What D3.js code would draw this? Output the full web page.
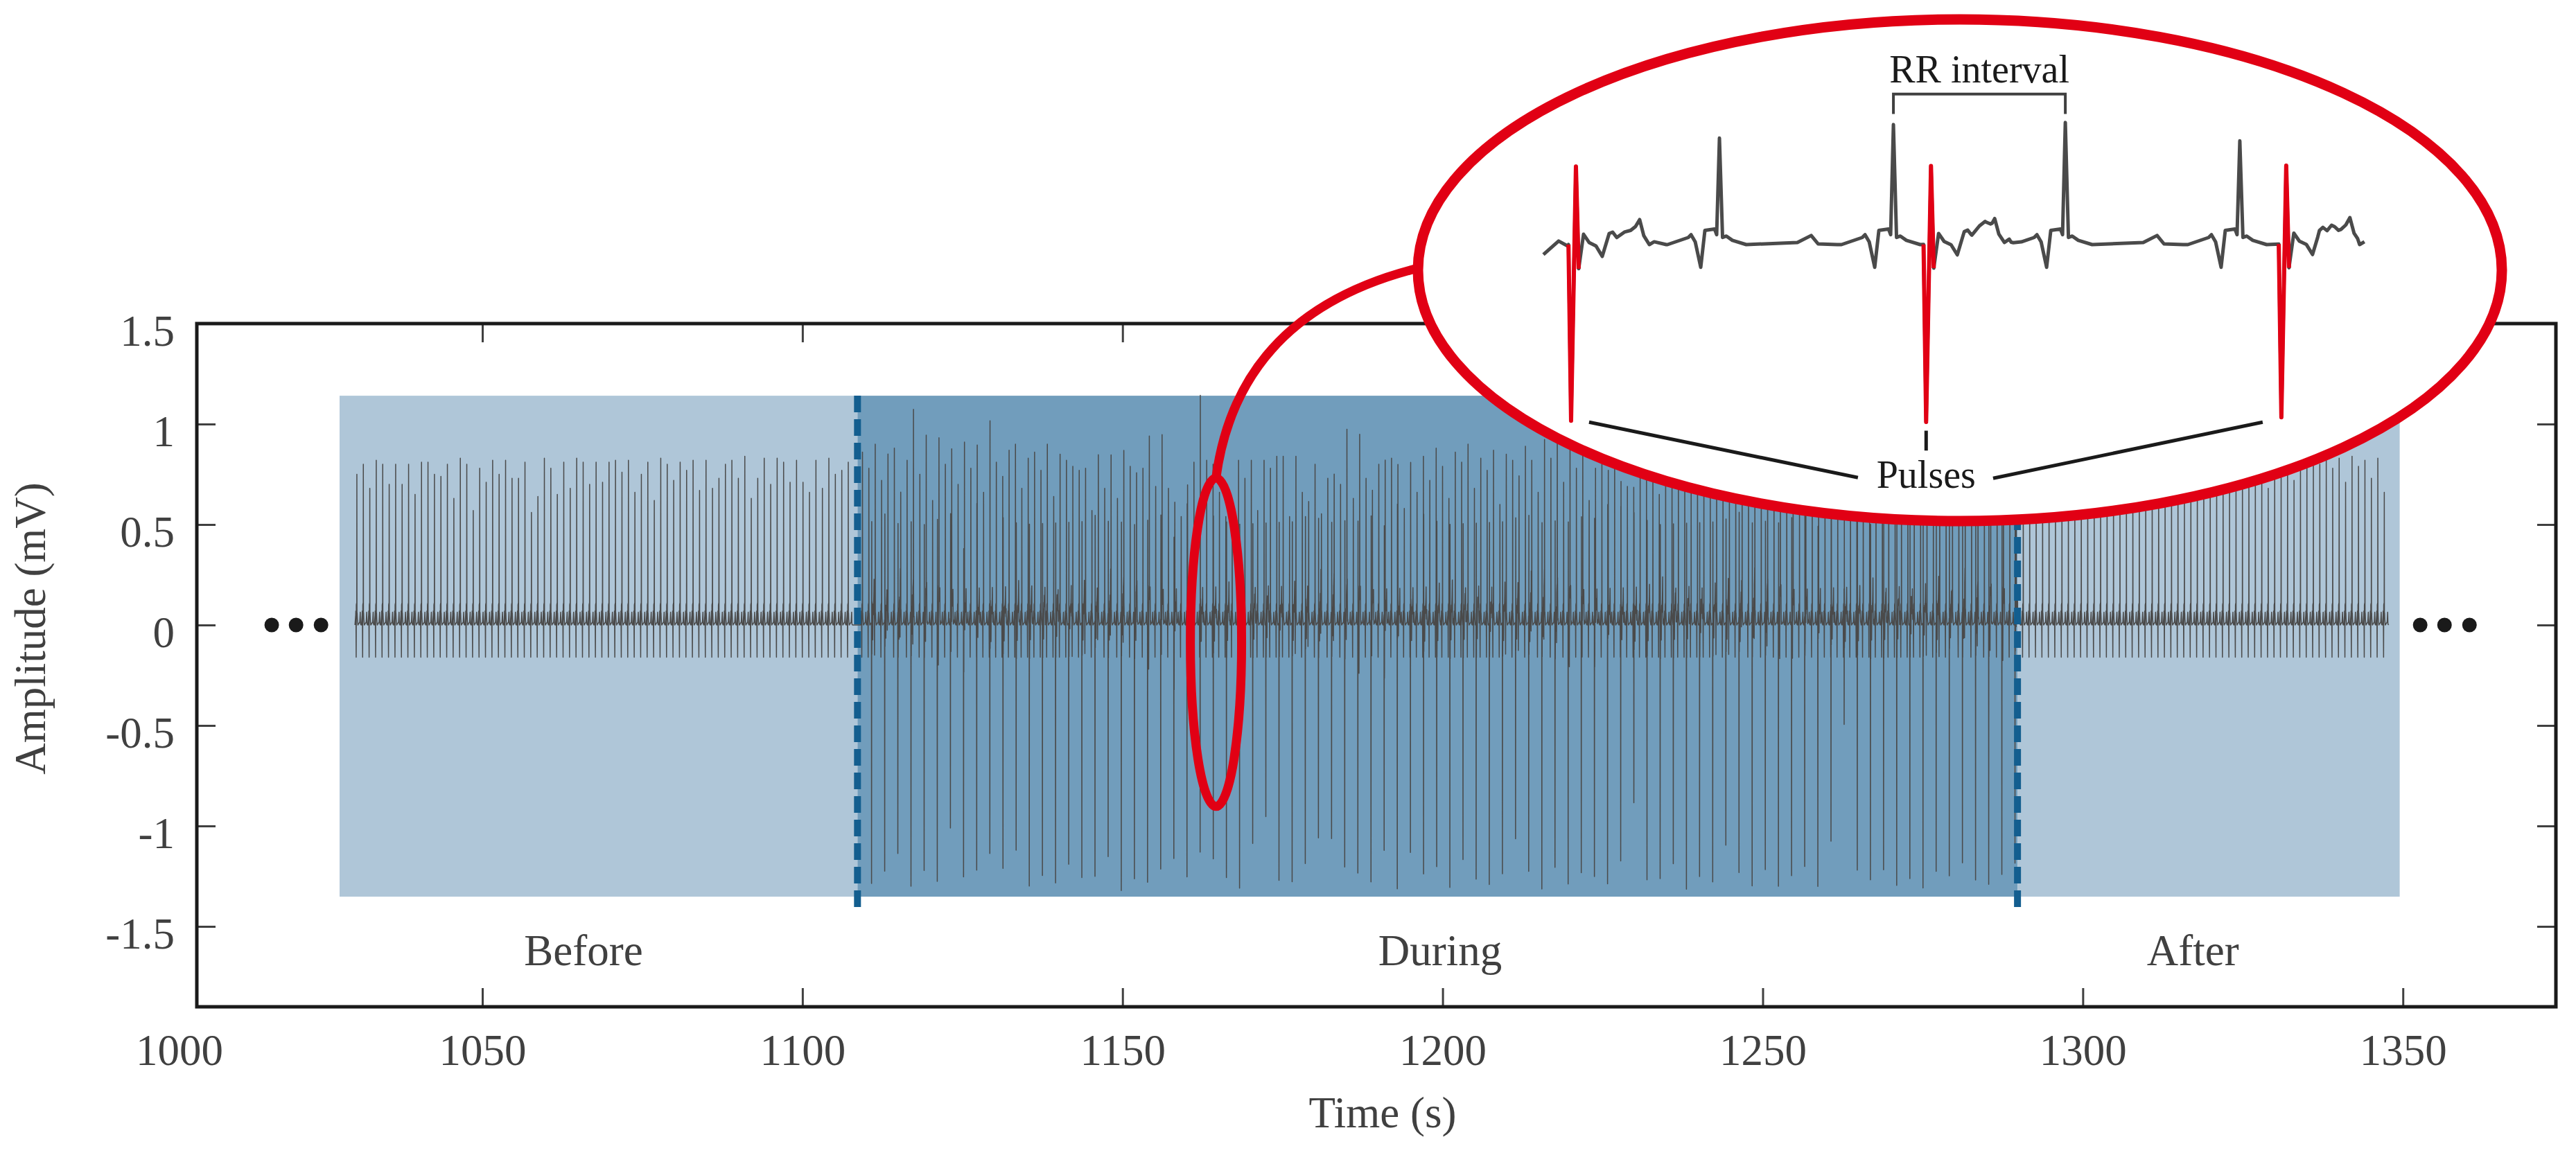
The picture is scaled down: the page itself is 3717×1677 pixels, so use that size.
<!DOCTYPE html>
<html><head><meta charset="utf-8">
<script src="https://cdn.jsdelivr.net/npm/d3@7"></script>
<style>html,body{margin:0;padding:0;background:#fff;}svg{display:block;}</style>
</head><body>
<svg id="c" width="3717" height="1677"></svg>
<script>
// ---------------- DATA ----------------
const xTicks = [1050, 1100, 1150, 1200, 1250, 1300, 1350];
const xFirstLabel = "1000";            // label drawn at the left edge of the axis
const yTicks = [-1.5, -1, -0.5, 0, 0.5, 1, 1.5];
const xDomain = [1005.4, 1373.9];
const yDomain = [-1.9, 1.5];

const segmentNames = ["Before", "During", "After"];
const segmentBounds = [1027.7, 1108.6, 1289.8, 1349.5];
const segmentLabelTimes = [1065.8, 1199.6, 1317.2];
const bandRange = [-1.352, 1.141];
const dashRange = [-1.43, 1.141];

const dotsLeft = [1017.1, 1020.9, 1024.8];
const dotsRight = [1352.7, 1356.5, 1360.4];

// beat timing (s)
const beforeStart = 1030.4, beforePeriod = 1.01;
const duringStart = 1109.38, duringPeriod = 0.9957;
const afterStart = 1290.7, afterPeriod = 1.007;
const pulseStart = 1110.797, pulsePeriod = 2.053;

// R-peak amplitudes (mV), read beat by beat
const beforeAmps = [0.75,0.80,0.68,0.82,0.80,0.70,0.80,0.70,0.80,0.65,
 0.81,0.81,0.75,0.74,0.80,0.63,0.83,0.80,0.57,0.78,
 0.71,0.82,0.75,0.82,0.73,0.73,0.81,0.56,0.64,0.83,
 0.78,0.65,0.81,0.68,0.83,0.81,0.70,0.81,0.71,0.81,
 0.82,0.76,0.82,0.66,0.75,0.81,0.62,0.83,0.80,0.72,
 0.81,0.77,0.82,0.67,0.82,0.68,0.73,0.80,0.82,0.73,
 0.84,0.63,0.73,0.83,0.70,0.83,0.81,0.71,0.82,0.71,
 0.66,0.82,0.68,0.83,0.75,0.77,0.81];
const duringAmps = [0.86,0.78,0.90,0.72,0.84,0.88,0.66,0.82,0.91,0.75,
 0.85,0.62,0.88,0.80,0.86,0.70,0.92,0.78,0.84,0.66,
 0.89,0.81,0.74,0.87,0.90,0.68,0.83,0.86,0.77,0.90,
 0.64,0.85,0.82,0.79,
 0.77,0.78,0.57,0.84,0.68,0.84,0.63,0.71,0.79,0.66,
 0.78,0.88,0.69,0.89,0.68,0.64,0.54,0.66,0.81,0.73,
 0.82,0.80,0.66,0.54,0.55,0.82,0.73,0.82,0.57,0.82,
 0.78,0.84,0.84,0.54,0.84,0.66,0.61,0.80,0.54,0.73,
 0.64,0.70,0.87,0.63,0.88,0.73,0.59,0.80,0.87,0.83,
 0.78,0.58,0.82,0.66,
 0.84,0.72,0.88,0.79,0.63,0.86,0.81,0.90,0.68,0.83,
 0.77,0.87,0.60,0.85,0.82,0.74,0.89,0.80,0.66,0.86,
 0.83,0.91,0.71,0.84,0.78,0.88,0.62,0.85,0.80,0.76,
 0.89,0.83,0.69,0.87,0.81,0.74,0.90,0.65,0.84,0.82,
 0.78,0.88,0.72,0.86,0.80,0.63,0.89,0.83,0.76,0.85,
 0.81,0.90,0.67,0.84,0.79,0.87,0.73,0.88,0.82,0.61,
 0.86,0.80,0.77,0.89,0.84,0.70,0.87,0.83,0.75,0.90,
 0.64,0.85,0.81,0.88,0.78,0.86,0.72,0.84,0.89,0.80,
 0.68,0.87,0.83,0.76,0.85,0.90,0.79,0.66,0.86,0.82,
 0.88,0.74,0.84,0.80];
const afterAmps = [0.80,0.82,0.78,0.83,0.79,0.81,0.77,0.82,0.80,0.83,
 0.79,0.62,0.81,0.78,0.83,0.80,0.70,0.82,0.79,0.81,
 0.83,0.78,0.80,0.75,0.82,0.66,0.80,0.83,0.79,0.81,
 0.78,0.82,0.80,0.74,0.83,0.79,0.81,0.78,0.68,0.82,
 0.80,0.83,0.72,0.81,0.79,0.84,0.80,0.82,0.78,0.83,
 0.71,0.84,0.79,0.82,0.73,0.83,0.66];
// stimulation pulse negative peaks (mV)
const pulseDepths = [-1.30,-1.26,-1.18,-1.31,-1.24,-1.29,-1.05,-1.28,-1.32,-1.22,
 -1.27,-1.14,-1.30,-1.25,-1.29,-1.20,
 -1.27,-1.28,-1.21,-1.33,-1.28,-1.29,-1.25,-1.21,-1.27,-1.24,
 -1.22,-1.28,-1.31,-1.09,-0.96,-1.28,-1.29,-1.21,-1.12,-1.07,
 -1.22,-1.24,-1.31,-1.19,-1.22,-1.24,
 -1.29,-1.23,-1.31,-1.17,-1.27,-1.30,-1.25,-1.08,-1.28,-1.32,
 -1.22,-1.29,-1.26,-1.31,-1.15,-1.28,-1.24,-1.30,-1.27,-1.19,
 -1.32,-1.26,-1.29,-1.11,-1.28,-1.31,-1.23,-1.30,-1.27,-1.25,
 -1.22,-1.18,-1.31,-1.26,-1.28,-1.22,-1.30,-1.27,-1.32,-1.24,
 -1.29,-1.21,-1.28,-1.31,-1.26,-1.23];
const pulseUp = 0.5;

// waveform shapes: [time from event (s), mV]; strings = per-event peaks
const beatShape = [[-0.3,0],[-0.18,0.05],[-0.164,0.07],[-0.14,0.02],[-0.108,-0.16],[-0.084,0.10],
 [-0.028,0.11],[-0.016,0.07],[0,"R"],[0.018,0.05],[0.04,0.06],[0.075,0.03],[0.155,0],
 [0.45,0.015],[0.53,0.064],[0.57,0.005],[0.68,0.02]];
const pulseShape = [[-0.015,0],[0,"DOWN"],[0.028,"UP"],[0.044,-0.17],[0.072,0.073],[0.104,0.015],
 [0.144,-0.01],[0.18,-0.083],[0.22,0.078],[0.24,0.088],[0.264,0.05],[0.308,0.088],[0.344,0.10],
 [0.372,0.127],[0.396,0.176],[0.42,0.063],[0.452,0],[0.48,0.02],[0.55,0]];

// inset (magnified segment)
const insetSpan = [0, 4.8];
const insetBeatTimes = [1.017, 2.022, 3.015, 4.023];
const insetBeatAmps = [0.75, 0.845, 0.86, 0.73];
const insetPulseTimes = [0.160, 2.211, 4.263];
const insetPulseDepths = [-1.24, -1.25, -1.22];
const insetPulseUp = 0.55;
const insetStartLevels = [[0,-0.07],[0.088,0.025],[0.14,-0.01]];

// ---------------- HELPERS ----------------
function resolve(shape, map){ return shape.map(([t,v]) => [t, (typeof v === "string") ? map[v] : v]); }
function buildSignal(events){
  const knots = [];
  events.forEach(e => e.shape.forEach(([dt]) => knots.push(e.t + dt)));
  knots.sort((a,b)=>a-b);
  const pts = [];
  let last = -Infinity;
  knots.forEach(t => {
    if (t - last < 1e-6) return; last = t;
    let v = 0;
    for (const e of events) {
      const s = e.shape, r = t - e.t;
      if (r < s[0][0] || r > s[s.length-1][0]) continue;
      for (let k=1;k<s.length;k++){
        if (r <= s[k][0]) { const [t0,v0]=s[k-1],[t1,v1]=s[k]; v += v0+(v1-v0)*(r-t0)/(t1-t0); break; }
      }
    }
    pts.push({t, v});
  });
  return pts;
}

// ---------------- CHART ----------------
const svg = d3.select("#c");
const FONT = "Liberation Serif, Times New Roman, serif";
const TXT = "#404040";
const x = d3.scaleLinear(xDomain, [284, 3688]);
const y = d3.scaleLinear(yDomain, [1453, 467]);

// shaded bands
const bandColors = ["#afc6d8", "#719dbc", "#afc6d8"];
segmentNames.forEach((n,i) => {
  svg.append("rect")
    .attr("x", x(segmentBounds[i])).attr("width", x(segmentBounds[i+1]) - x(segmentBounds[i]))
    .attr("y", y(bandRange[1])).attr("height", y(bandRange[0]) - y(bandRange[1]))
    .attr("fill", bandColors[i]);
});

// ECG events
const events = [];
beforeAmps.forEach((a,i) => events.push({t: beforeStart + i*beforePeriod, shape: resolve(beatShape, {R:a})}));
duringAmps.forEach((a,i) => events.push({t: duringStart + i*duringPeriod, shape: resolve(beatShape, {R:a})}));
afterAmps.forEach((a,i) => events.push({t: afterStart + i*afterPeriod, shape: resolve(beatShape, {R:a})}));
pulseDepths.forEach((d,i) => events.push({t: pulseStart + i*pulsePeriod, shape: resolve(pulseShape, {UP:pulseUp, DOWN:d})}));
const sig = buildSignal(events);
const line = d3.line().x(d => x(d.t)).y(d => y(d.v));
svg.append("path").datum(sig).attr("d", line)
  .attr("fill","none").attr("stroke","#4a4a4a").attr("stroke-width",1.5).attr("stroke-linejoin","round");

// dashed boundaries
[segmentBounds[1], segmentBounds[2]].forEach(t => {
  svg.append("line").attr("x1", x(t)).attr("x2", x(t))
    .attr("y1", y(dashRange[1])).attr("y2", y(dashRange[0]))
    .attr("stroke","#135e8f").attr("stroke-width",10).attr("stroke-dasharray","24 10");
});

// axes
function styleAxis(g){
  g.select(".domain").remove();
  g.selectAll(".tick line").attr("stroke","#404040").attr("stroke-width",3);
  g.selectAll(".tick text").attr("fill",TXT).attr("font-family",FONT).attr("font-size",63);
}
svg.append("g").attr("transform","translate(0,1453)")
  .call(d3.axisBottom(x).tickValues(xTicks).tickSize(-27).tickPadding(39).tickFormat(d => String(d)))
  .call(styleAxis);
svg.append("g").attr("transform","translate(0,467)")
  .call(d3.axisTop(x).tickValues(xTicks).tickSize(-27).tickFormat(""))
  .call(styleAxis);
svg.append("g").attr("transform","translate(284,0)")
  .call(d3.axisLeft(y).tickValues(yTicks).tickSize(-27).tickPadding(32).tickFormat(d => String(d)))
  .call(styleAxis)
  .selectAll(".tick text").attr("dy","0.5em");
svg.append("g").attr("transform","translate(3688,0)")
  .call(d3.axisRight(y).tickValues(yTicks).tickSize(-27).tickFormat(""))
  .call(styleAxis);
// first x label at the left edge
svg.append("text").attr("x", x(xDomain[0]) - 25).attr("y", 1453 + 39).attr("dy","0.71em")
  .attr("text-anchor","middle").attr("fill",TXT).attr("font-family",FONT).attr("font-size",63).text(xFirstLabel);

// frame
svg.append("rect").attr("x",284).attr("y",467).attr("width",3688-284).attr("height",1453-467)
  .attr("fill","none").attr("stroke","#1a1a1a").attr("stroke-width",5);

// axis titles
svg.append("text").attr("x",1995).attr("y",1627).attr("text-anchor","middle")
  .attr("fill",TXT).attr("font-family",FONT).attr("font-size",63).text("Time (s)");
svg.append("text").attr("transform","translate(65,907) rotate(-90)").attr("text-anchor","middle")
  .attr("fill",TXT).attr("font-family",FONT).attr("font-size",63).text("Amplitude (mV)");

// segment labels
segmentNames.forEach((n,i) => {
  svg.append("text").attr("x", x(segmentLabelTimes[i])).attr("y", 1393).attr("text-anchor","middle")
    .attr("fill",TXT).attr("font-family",FONT).attr("font-size",63).text(n);
});

// ellipsis dots
dotsLeft.concat(dotsRight).forEach(t => {
  svg.append("circle").attr("cx", x(t)).attr("cy", y(0)).attr("r", 10.5).attr("fill","#1a1a1a");
});

// ---------------- ANNOTATIONS ----------------
const RED = "#e10014";
const small = {t:1164.6, v:-0.086, dt:4.0, dv:0.817};
const scx = x(small.t), scy = y(small.v), srx = x(small.t+small.dt)-x(small.t), sry = y(small.v-small.dv)-y(small.v);
svg.append("ellipse").attr("cx",scx).attr("cy",scy).attr("rx",srx).attr("ry",sry)
  .attr("fill","none").attr("stroke",RED).attr("stroke-width",13);
const big = {cx:2828, cy:390, rx:782, ry:362};
svg.append("path").attr("d", `M${scx},${scy-sry} Q${scx+32},${450} ${big.cx-big.rx+4},${big.cy-4}`)
  .attr("fill","none").attr("stroke",RED).attr("stroke-width",13);
svg.append("ellipse").attr("cx",big.cx).attr("cy",big.cy).attr("rx",big.rx).attr("ry",big.ry)
  .attr("fill","#fff").attr("stroke",RED).attr("stroke-width",15);

// inset signal
const ix = d3.scaleLinear(insetSpan, [2227, 3426]);
const iy = d3.scaleLinear([0, 1], [353, 148]);
const iev = [];
insetBeatTimes.forEach((t,i) => iev.push({t, shape: resolve(beatShape, {R: insetBeatAmps[i]})}));
insetPulseTimes.forEach((t,i) => iev.push({t, shape: resolve(pulseShape, {UP: insetPulseUp, DOWN: insetPulseDepths[i]})}));
iev.push({t:0, shape: insetStartLevels.map(([a,b]) => [a,b])});
const isig = buildSignal(iev).filter(d => d.t >= insetSpan[0] && d.t <= insetSpan[1] + 0.001);
const iline = d3.line().x(d => ix(d.t)).y(d => iy(d.v));
svg.append("path").datum(isig).attr("d", iline).attr("fill","none")
  .attr("stroke","#4a4a4a").attr("stroke-width",5).attr("stroke-linejoin","round");
insetPulseTimes.forEach(p => {
  const seg = isig.filter(d => d.t >= p - 0.016 && d.t <= p + 0.045);
  svg.append("path").datum(seg).attr("d", iline).attr("fill","none")
    .attr("stroke",RED).attr("stroke-width",6).attr("stroke-linejoin","round");
});

// RR bracket
const bl = ix(insetBeatTimes[1]), br = ix(insetBeatTimes[2]);
svg.append("path").attr("d", `M${bl},${iy(0.92)} V${iy(1.06)} H${br} V${iy(0.92)}`)
  .attr("fill","none").attr("stroke","#404040").attr("stroke-width",4);
svg.append("text").attr("x",(bl+br)/2).attr("y",iy(1.14)).attr("text-anchor","middle")
  .attr("fill","#1a1a1a").attr("font-family",FONT).attr("font-size",56).text("RR interval");

// Pulses leaders
const pLines = [[0.264,-1.25,1.817,-1.64],[insetPulseTimes[1],-1.31,insetPulseTimes[1],-1.45],[4.155,-1.25,2.598,-1.645]];
pLines.forEach(([t1,v1,t2,v2]) => {
  svg.append("line").attr("x1",ix(t1)).attr("y1",iy(v1)).attr("x2",ix(t2)).attr("y2",iy(v2))
    .attr("stroke","#1a1a1a").attr("stroke-width",5);
});
svg.append("text").attr("x",ix(insetPulseTimes[1])).attr("y",iy(-1.71)).attr("text-anchor","middle")
  .attr("fill","#1a1a1a").attr("font-family",FONT).attr("font-size",56).text("Pulses");
</script>
</body></html>
